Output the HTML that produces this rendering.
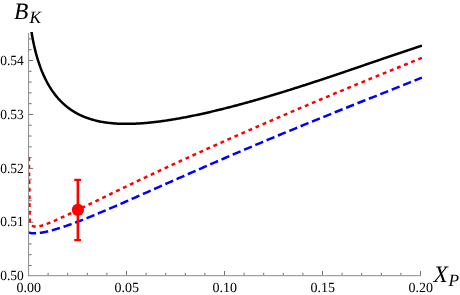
<!DOCTYPE html>
<html><head><meta charset="utf-8"><title>B_K vs X_P</title><style>
html,body{margin:0;padding:0;background:#fff;}
body{width:460px;height:295px;position:relative;overflow:hidden;font-family:"Liberation Serif",serif;color:#000;}
svg{position:absolute;left:0;top:0;will-change:transform;}
</style></head><body>
<svg width="460" height="295" viewBox="0 0 460 295">
<defs><clipPath id="cp"><rect x="28.5" y="31.9" width="394" height="245"/></clipPath></defs>
<g stroke="#707070" stroke-width="1" fill="none">
<path d="M28.90 265.50 h2.70"/>
<path d="M28.90 254.71 h2.70"/>
<path d="M28.90 243.92 h2.70"/>
<path d="M28.90 233.13 h2.70"/>
<path d="M28.90 222.34 h4.30"/>
<path d="M28.90 211.55 h2.70"/>
<path d="M28.90 200.76 h2.70"/>
<path d="M28.90 189.97 h2.70"/>
<path d="M28.90 179.19 h2.70"/>
<path d="M28.90 168.40 h4.30"/>
<path d="M28.90 157.61 h2.70"/>
<path d="M28.90 146.82 h2.70"/>
<path d="M28.90 136.03 h2.70"/>
<path d="M28.90 125.24 h2.70"/>
<path d="M28.90 114.45 h4.30"/>
<path d="M28.90 103.66 h2.70"/>
<path d="M28.90 92.87 h2.70"/>
<path d="M28.90 82.08 h2.70"/>
<path d="M28.90 71.29 h2.70"/>
<path d="M28.90 60.50 h4.30"/>
<path d="M28.90 49.71 h2.70"/>
<path d="M28.90 38.92 h2.70"/>
<path d="M48.10 275.20 v-2.40"/>
<path d="M67.70 275.20 v-2.40"/>
<path d="M87.30 275.20 v-2.40"/>
<path d="M106.90 275.20 v-2.40"/>
<path d="M126.50 275.20 v-4.20"/>
<path d="M146.10 275.20 v-2.40"/>
<path d="M165.70 275.20 v-2.40"/>
<path d="M185.30 275.20 v-2.40"/>
<path d="M204.90 275.20 v-2.40"/>
<path d="M224.50 275.20 v-4.20"/>
<path d="M244.10 275.20 v-2.40"/>
<path d="M263.70 275.20 v-2.40"/>
<path d="M283.30 275.20 v-2.40"/>
<path d="M302.90 275.20 v-2.40"/>
<path d="M322.50 275.20 v-4.20"/>
<path d="M342.10 275.20 v-2.40"/>
<path d="M361.70 275.20 v-2.40"/>
<path d="M381.30 275.20 v-2.40"/>
<path d="M400.90 275.20 v-2.40"/>
<path d="M420.50 275.20 v-4.20"/>
</g>
<g clip-path="url(#cp)" fill="none" stroke-width="2.5" stroke-linejoin="round">
<path d="M28.89 6.93 L29.09 10.09 L29.28 12.76 L29.48 15.12 L29.67 17.25 L29.87 19.21 L30.06 21.04 L30.26 22.75 L30.46 24.37 L30.65 25.90 L30.85 27.37 L31.04 28.77 L31.24 30.11 L31.43 31.40 L31.63 32.65 L31.82 33.86 L32.02 35.02 L32.21 36.15 L32.41 37.25 L32.61 38.32 L32.80 39.36 L33.00 40.37 L33.19 41.36 L33.39 42.32 L33.58 43.26 L33.78 44.18 L33.97 45.08 L34.17 45.96 L34.36 46.82 L34.56 47.67 L34.76 48.49 L34.95 49.30 L35.15 50.10 L35.34 50.88 L35.54 51.65 L35.73 52.40 L35.93 53.14 L36.12 53.87 L36.32 54.59 L36.51 55.29 L36.71 55.98 L36.91 56.67 L37.10 57.34 L37.30 58.00 L37.49 58.65 L37.69 59.29 L37.88 59.92 L38.08 60.55 L38.27 61.16 L38.47 61.76 L38.66 62.36 L38.86 62.95 L39.06 63.53 L39.25 64.10 L39.45 64.67 L39.64 65.23 L39.84 65.78 L40.03 66.32 L40.23 66.86 L40.42 67.39 L40.62 67.91 L40.81 68.43 L41.01 68.94 L41.21 69.44 L41.40 69.94 L41.60 70.43 L41.79 70.92 L41.99 71.40 L42.18 71.88 L42.38 72.35 L42.57 72.81 L42.77 73.27 L42.96 73.72 L43.16 74.17 L43.36 74.62 L43.55 75.06 L43.75 75.49 L43.94 75.92 L44.14 76.35 L44.33 76.77 L44.53 77.19 L44.72 77.60 L44.92 78.01 L45.11 78.41 L45.31 78.81 L45.50 79.21 L45.70 79.60 L45.90 79.99 L46.09 80.37 L46.29 80.75 L46.48 81.13 L46.68 81.50 L46.87 81.87 L47.07 82.23 L47.26 82.60 L47.46 82.95 L47.65 83.31 L47.85 83.66 L48.05 84.01 L48.24 84.35 L48.44 84.70 L48.63 85.03 L48.83 85.37 L49.02 85.70 L49.22 86.03 L49.41 86.36 L49.61 86.68 L49.80 87.00 L50.00 87.32 L50.20 87.63 L50.39 87.94 L50.59 88.25 L50.78 88.56 L50.98 88.86 L51.17 89.16 L51.37 89.46 L51.56 89.76 L51.76 90.05 L51.95 90.34 L52.15 90.63 L52.35 90.91 L52.54 91.19 L52.74 91.47 L52.93 91.75 L53.13 92.03 L53.32 92.30 L53.52 92.57 L53.71 92.84 L53.91 93.11 L54.10 93.37 L54.30 93.63 L54.50 93.89 L54.69 94.15 L54.89 94.40 L55.08 94.66 L55.28 94.91 L55.47 95.16 L55.67 95.40 L55.86 95.65 L56.06 95.89 L56.25 96.13 L56.45 96.37 L56.65 96.61 L56.84 96.84 L57.04 97.08 L57.23 97.31 L57.43 97.54 L57.62 97.77 L57.82 97.99 L58.01 98.22 L58.21 98.44 L58.40 98.66 L58.60 98.88 L58.80 99.09 L58.99 99.31 L59.19 99.52 L59.38 99.73 L59.58 99.94 L59.77 100.15 L59.97 100.36 L60.16 100.56 L60.36 100.77 L60.55 100.97 L60.75 101.17 L60.95 101.37 L61.14 101.56 L61.34 101.76 L61.53 101.95 L61.73 102.15 L61.92 102.34 L62.12 102.53 L62.31 102.72 L62.51 102.90 L62.70 103.09 L62.90 103.27 L63.09 103.45 L63.29 103.64 L63.49 103.82 L63.68 103.99 L63.88 104.17 L64.07 104.35 L64.27 104.52 L64.46 104.69 L64.66 104.86 L64.85 105.03 L65.05 105.20 L65.24 105.37 L65.44 105.54 L65.64 105.70 L65.83 105.87 L66.03 106.03 L66.22 106.19 L66.42 106.35 L66.61 106.51 L66.81 106.67 L67.00 106.82 L67.20 106.98 L67.39 107.13 L67.59 107.29 L67.79 107.44 L67.98 107.59 L68.18 107.74 L68.37 107.89 L68.57 108.03 L68.76 108.18 L68.96 108.33 L69.15 108.47 L69.35 108.61 L69.54 108.75 L69.74 108.90 L69.94 109.04 L70.13 109.17 L70.33 109.31 L70.52 109.45 L70.72 109.58 L70.91 109.72 L71.11 109.85 L71.30 109.98 L71.50 110.12 L71.69 110.25 L71.89 110.38 L72.09 110.50 L72.28 110.63 L72.48 110.76 L72.67 110.88 L72.87 111.01 L73.06 111.13 L73.26 111.26 L73.45 111.38 L73.65 111.50 L73.84 111.62 L74.04 111.74 L74.24 111.86 L74.43 111.97 L74.63 112.09 L74.82 112.21 L75.02 112.32 L75.21 112.44 L75.41 112.55 L75.60 112.66 L75.80 112.77 L75.99 112.88 L76.19 112.99 L76.39 113.10 L76.58 113.21 L76.78 113.32 L76.97 113.42 L77.17 113.53 L77.36 113.63 L77.56 113.74 L77.75 113.84 L77.95 113.94 L78.14 114.05 L78.34 114.15 L78.54 114.25 L78.73 114.35 L78.93 114.44 L79.12 114.54 L79.32 114.64 L79.51 114.74 L79.71 114.83 L79.90 114.93 L80.10 115.02 L80.29 115.11 L80.49 115.21 L80.68 115.30 L80.88 115.39 L81.08 115.48 L81.27 115.57 L81.47 115.66 L81.66 115.75 L81.86 115.84 L82.05 115.92 L82.25 116.01 L82.44 116.10 L82.64 116.18 L82.83 116.27 L83.03 116.35 L83.23 116.43 L83.42 116.51 L83.62 116.60 L83.81 116.68 L84.01 116.76 L84.20 116.84 L84.40 116.92 L84.59 117.00 L84.79 117.07 L84.98 117.15 L85.18 117.23 L85.38 117.30 L85.57 117.38 L85.77 117.46 L85.96 117.53 L86.16 117.60 L86.35 117.68 L86.55 117.75 L86.74 117.82 L86.94 117.89 L87.13 117.96 L87.33 118.03 L88.45 118.42 L89.57 118.80 L90.69 119.15 L91.81 119.49 L92.92 119.81 L94.04 120.12 L95.16 120.41 L96.28 120.69 L97.40 120.95 L98.52 121.20 L99.64 121.43 L100.76 121.65 L101.88 121.86 L103.00 122.06 L104.11 122.24 L105.23 122.41 L106.35 122.58 L107.47 122.73 L108.59 122.87 L109.71 122.99 L110.83 123.11 L111.95 123.22 L113.07 123.32 L114.19 123.41 L115.30 123.49 L116.42 123.57 L117.54 123.63 L118.66 123.69 L119.78 123.74 L120.90 123.78 L122.02 123.81 L123.14 123.83 L124.26 123.85 L125.37 123.86 L126.49 123.86 L127.61 123.86 L128.73 123.85 L129.85 123.83 L130.97 123.81 L132.09 123.78 L133.21 123.74 L134.33 123.70 L135.45 123.66 L136.56 123.60 L137.68 123.55 L138.80 123.48 L139.92 123.41 L141.04 123.34 L142.16 123.26 L143.28 123.18 L144.40 123.09 L145.52 123.00 L146.64 122.90 L147.75 122.80 L148.87 122.69 L149.99 122.58 L151.11 122.46 L152.23 122.35 L153.35 122.22 L154.47 122.09 L155.59 121.96 L156.71 121.83 L157.82 121.69 L158.94 121.55 L160.06 121.40 L161.18 121.25 L162.30 121.10 L163.42 120.94 L164.54 120.78 L165.66 120.62 L166.78 120.45 L167.90 120.28 L169.01 120.11 L170.13 119.93 L171.25 119.75 L172.37 119.57 L173.49 119.39 L174.61 119.20 L175.73 119.01 L176.85 118.82 L177.97 118.62 L179.08 118.42 L180.20 118.22 L181.32 118.02 L182.44 117.81 L183.56 117.60 L184.68 117.39 L185.80 117.18 L186.92 116.96 L188.04 116.74 L189.16 116.52 L190.27 116.30 L191.39 116.07 L192.51 115.84 L193.63 115.61 L194.75 115.38 L195.87 115.15 L196.99 114.91 L198.11 114.67 L199.23 114.43 L200.35 114.19 L201.46 113.94 L202.58 113.70 L203.70 113.45 L204.82 113.20 L205.94 112.94 L207.06 112.69 L208.18 112.43 L209.30 112.18 L210.42 111.92 L211.53 111.65 L212.65 111.39 L213.77 111.13 L214.89 110.86 L216.01 110.59 L217.13 110.32 L218.25 110.05 L219.37 109.77 L220.49 109.50 L221.61 109.22 L222.72 108.94 L223.84 108.66 L224.96 108.38 L226.08 108.10 L227.20 107.81 L228.32 107.53 L229.44 107.24 L230.56 106.95 L231.68 106.66 L232.80 106.37 L233.91 106.07 L235.03 105.78 L236.15 105.48 L237.27 105.18 L238.39 104.88 L239.51 104.58 L240.63 104.28 L241.75 103.98 L242.87 103.67 L243.98 103.37 L245.10 103.06 L246.22 102.75 L247.34 102.44 L248.46 102.13 L249.58 101.82 L250.70 101.50 L251.82 101.19 L252.94 100.87 L254.06 100.56 L255.17 100.24 L256.29 99.92 L257.41 99.60 L258.53 99.28 L259.65 98.95 L260.77 98.63 L261.89 98.30 L263.01 97.98 L264.13 97.65 L265.25 97.32 L266.36 96.99 L267.48 96.66 L268.60 96.33 L269.72 95.99 L270.84 95.66 L271.96 95.32 L273.08 94.99 L274.20 94.65 L275.32 94.31 L276.43 93.97 L277.55 93.63 L278.67 93.29 L279.79 92.95 L280.91 92.61 L282.03 92.26 L283.15 91.92 L284.27 91.57 L285.39 91.23 L286.51 90.88 L287.62 90.53 L288.74 90.18 L289.86 89.83 L290.98 89.48 L292.10 89.13 L293.22 88.77 L294.34 88.42 L295.46 88.06 L296.58 87.71 L297.70 87.35 L298.81 87.00 L299.93 86.64 L301.05 86.28 L302.17 85.92 L303.29 85.56 L304.41 85.20 L305.53 84.84 L306.65 84.48 L307.77 84.11 L308.88 83.75 L310.00 83.39 L311.12 83.02 L312.24 82.66 L313.36 82.29 L314.48 81.92 L315.60 81.56 L316.72 81.19 L317.84 80.82 L318.96 80.45 L320.07 80.08 L321.19 79.71 L322.31 79.34 L323.43 78.97 L324.55 78.59 L325.67 78.22 L326.79 77.85 L327.91 77.47 L329.03 77.10 L330.15 76.73 L331.26 76.35 L332.38 75.97 L333.50 75.60 L334.62 75.22 L335.74 74.85 L336.86 74.47 L337.98 74.09 L339.10 73.71 L340.22 73.33 L341.33 72.95 L342.45 72.58 L343.57 72.20 L344.69 71.82 L345.81 71.44 L346.93 71.06 L348.05 70.67 L349.17 70.29 L350.29 69.91 L351.41 69.53 L352.52 69.15 L353.64 68.77 L354.76 68.38 L355.88 68.00 L357.00 67.62 L358.12 67.24 L359.24 66.85 L360.36 66.47 L361.48 66.09 L362.59 65.70 L363.71 65.32 L364.83 64.94 L365.95 64.55 L367.07 64.17 L368.19 63.79 L369.31 63.40 L370.43 63.02 L371.55 62.64 L372.67 62.25 L373.78 61.87 L374.90 61.48 L376.02 61.10 L377.14 60.72 L378.26 60.33 L379.38 59.95 L380.50 59.57 L381.62 59.19 L382.74 58.80 L383.86 58.42 L384.97 58.04 L386.09 57.66 L387.21 57.27 L388.33 56.89 L389.45 56.51 L390.57 56.13 L391.69 55.75 L392.81 55.37 L393.93 54.99 L395.04 54.61 L396.16 54.23 L397.28 53.85 L398.40 53.47 L399.52 53.09 L400.64 52.71 L401.76 52.33 L402.88 51.96 L404.00 51.58 L405.12 51.20 L406.23 50.83 L407.35 50.45 L408.47 50.08 L409.59 49.71 L410.71 49.33 L411.83 48.96 L412.95 48.59 L414.07 48.22 L415.19 47.84 L416.31 47.47 L417.42 47.10 L418.54 46.74 L419.66 46.37 L420.78 46.00 L421.90 45.63" stroke="#000"/>
<path d="M28.90 157.30 L29.72 221.39 L29.76 221.55 L29.80 221.71 L29.85 221.87 L29.90 222.03 L29.95 222.18 L30.00 222.34 L30.06 222.49 L30.11 222.64 L30.17 222.79 L30.23 222.94 L30.29 223.08 L30.35 223.23 L30.42 223.37 L30.49 223.51 L30.56 223.65 L30.64 223.78 L30.71 223.92 L30.79 224.05 L30.87 224.18 L30.96 224.31 L31.05 224.43 L31.14 224.56 L31.23 224.68 L31.33 224.79 L31.43 224.91 L31.54 225.02 L31.64 225.13 L31.76 225.24 L31.87 225.34 L32.00 225.44 L32.12 225.54 L32.25 225.63 L32.38 225.72 L32.52 225.81 L32.67 225.89 L32.82 225.97 L32.97 226.05 L33.13 226.12 L33.30 226.19 L33.47 226.25 L33.65 226.31 L33.83 226.36 L34.02 226.41 L34.22 226.45 L34.43 226.49 L34.64 226.53 L34.86 226.56 L35.09 226.58 L35.32 226.60 L35.57 226.61 L35.82 226.62 L36.08 226.62 L36.35 226.61 L36.63 226.60 L36.93 226.58 L37.23 226.55 L37.54 226.52 L37.86 226.48 L38.20 226.43 L38.55 226.37 L38.91 226.31 L39.28 226.23 L39.67 226.15 L40.07 226.06 L40.48 225.96 L40.91 225.85 L41.35 225.73 L41.81 225.60 L42.29 225.46 L42.79 225.31 L43.30 225.15 L43.83 224.98 L44.38 224.80 L44.95 224.60 L45.53 224.39 L46.14 224.17 L46.78 223.94 L47.43 223.69 L48.11 223.43 L49.36 222.93 L50.61 222.43 L51.86 221.91 L53.11 221.38 L54.36 220.84 L55.61 220.29 L56.86 219.73 L58.11 219.17 L59.36 218.61 L60.61 218.04 L61.86 217.46 L63.11 216.88 L64.36 216.30 L65.61 215.71 L66.86 215.12 L68.11 214.53 L69.36 213.94 L70.61 213.35 L71.86 212.75 L73.11 212.15 L74.36 211.55 L75.61 210.95 L76.86 210.35 L78.11 209.75 L79.36 209.14 L80.61 208.54 L81.86 207.94 L83.11 207.33 L84.36 206.72 L85.61 206.12 L86.86 205.51 L88.11 204.91 L89.36 204.30 L90.61 203.69 L91.86 203.09 L93.11 202.48 L94.36 201.87 L95.62 201.27 L96.87 200.66 L98.12 200.05 L99.37 199.45 L100.62 198.84 L101.87 198.23 L103.12 197.63 L104.37 197.02 L105.62 196.42 L106.87 195.81 L108.12 195.21 L109.37 194.60 L110.62 194.00 L111.87 193.40 L113.12 192.79 L114.37 192.19 L115.62 191.59 L116.87 190.99 L118.12 190.39 L119.37 189.79 L120.62 189.18 L121.87 188.58 L123.12 187.99 L124.37 187.39 L125.62 186.79 L126.87 186.19 L128.12 185.59 L129.37 184.99 L130.62 184.40 L131.87 183.80 L133.12 183.21 L134.37 182.61 L135.62 182.02 L136.87 181.42 L138.12 180.83 L139.37 180.24 L140.62 179.64 L141.87 179.05 L143.12 178.46 L144.37 177.87 L145.62 177.28 L146.87 176.69 L148.12 176.10 L149.37 175.51 L150.62 174.92 L151.87 174.34 L153.12 173.75 L154.37 173.16 L155.62 172.58 L156.87 171.99 L158.12 171.41 L159.37 170.82 L160.62 170.24 L161.87 169.65 L163.12 169.07 L164.37 168.49 L165.62 167.91 L166.87 167.33 L168.12 166.75 L169.37 166.17 L170.62 165.59 L171.87 165.01 L173.12 164.43 L174.37 163.85 L175.62 163.27 L176.87 162.70 L178.12 162.12 L179.37 161.54 L180.62 160.97 L181.87 160.39 L183.12 159.82 L184.37 159.25 L185.62 158.67 L186.87 158.10 L188.12 157.53 L189.38 156.96 L190.63 156.38 L191.88 155.81 L193.13 155.24 L194.38 154.67 L195.63 154.10 L196.88 153.54 L198.13 152.97 L199.38 152.40 L200.63 151.83 L201.88 151.27 L203.13 150.70 L204.38 150.13 L205.63 149.57 L206.88 149.00 L208.13 148.44 L209.38 147.88 L210.63 147.31 L211.88 146.75 L213.13 146.19 L214.38 145.63 L215.63 145.07 L216.88 144.50 L218.13 143.94 L219.38 143.38 L220.63 142.83 L221.88 142.27 L223.13 141.71 L224.38 141.15 L225.63 140.59 L226.88 140.04 L228.13 139.48 L229.38 138.92 L230.63 138.37 L231.88 137.81 L233.13 137.26 L234.38 136.70 L235.63 136.15 L236.88 135.60 L238.13 135.04 L239.38 134.49 L240.63 133.94 L241.88 133.39 L243.13 132.84 L244.38 132.29 L245.63 131.74 L246.88 131.19 L248.13 130.64 L249.38 130.09 L250.63 129.54 L251.88 128.99 L253.13 128.44 L254.38 127.90 L255.63 127.35 L256.88 126.80 L258.13 126.26 L259.38 125.71 L260.63 125.17 L261.88 124.62 L263.13 124.08 L264.38 123.53 L265.63 122.99 L266.88 122.45 L268.13 121.91 L269.38 121.36 L270.63 120.82 L271.88 120.28 L273.13 119.74 L274.38 119.20 L275.63 118.66 L276.88 118.12 L278.13 117.58 L279.38 117.04 L280.63 116.50 L281.89 115.97 L283.14 115.43 L284.39 114.89 L285.64 114.35 L286.89 113.82 L288.14 113.28 L289.39 112.75 L290.64 112.21 L291.89 111.68 L293.14 111.14 L294.39 110.61 L295.64 110.07 L296.89 109.54 L298.14 109.01 L299.39 108.47 L300.64 107.94 L301.89 107.41 L303.14 106.88 L304.39 106.35 L305.64 105.82 L306.89 105.29 L308.14 104.76 L309.39 104.23 L310.64 103.70 L311.89 103.17 L313.14 102.64 L314.39 102.11 L315.64 101.59 L316.89 101.06 L318.14 100.53 L319.39 100.00 L320.64 99.48 L321.89 98.95 L323.14 98.43 L324.39 97.90 L325.64 97.38 L326.89 96.85 L328.14 96.33 L329.39 95.80 L330.64 95.28 L331.89 94.76 L333.14 94.23 L334.39 93.71 L335.64 93.19 L336.89 92.67 L338.14 92.15 L339.39 91.63 L340.64 91.11 L341.89 90.59 L343.14 90.07 L344.39 89.55 L345.64 89.03 L346.89 88.51 L348.14 87.99 L349.39 87.47 L350.64 86.95 L351.89 86.43 L353.14 85.92 L354.39 85.40 L355.64 84.88 L356.89 84.37 L358.14 83.85 L359.39 83.34 L360.64 82.82 L361.89 82.31 L363.14 81.79 L364.39 81.28 L365.64 80.76 L366.89 80.25 L368.14 79.74 L369.39 79.22 L370.64 78.71 L371.89 78.20 L373.14 77.69 L374.39 77.17 L375.65 76.66 L376.90 76.15 L378.15 75.64 L379.40 75.13 L380.65 74.62 L381.90 74.11 L383.15 73.60 L384.40 73.09 L385.65 72.58 L386.90 72.07 L388.15 71.56 L389.40 71.06 L390.65 70.55 L391.90 70.04 L393.15 69.53 L394.40 69.03 L395.65 68.52 L396.90 68.01 L398.15 67.51 L399.40 67.00 L400.65 66.50 L401.90 65.99 L403.15 65.49 L404.40 64.98 L405.65 64.48 L406.90 63.97 L408.15 63.47 L409.40 62.97 L410.65 62.46 L411.90 61.96 L413.15 61.46 L414.40 60.96 L415.65 60.45 L416.90 59.95 L418.15 59.45 L419.40 58.95 L420.65 58.45 L421.90 57.95" stroke="#f00" stroke-dasharray="3.9 3.77" stroke-dashoffset="0.19"/>
<path d="M27.90 232.73 L29.68 232.73 L30.15 232.87 L30.62 232.99 L31.09 233.08 L31.57 233.16 L32.04 233.22 L32.51 233.26 L32.99 233.29 L33.46 233.31 L33.93 233.33 L34.40 233.33 L34.88 233.33 L35.35 233.31 L35.82 233.29 L36.29 233.27 L36.77 233.24 L37.24 233.20 L37.71 233.16 L38.18 233.11 L38.66 233.06 L39.13 233.01 L39.60 232.95 L40.07 232.88 L40.55 232.81 L41.02 232.74 L41.49 232.67 L41.97 232.59 L42.44 232.51 L42.91 232.42 L43.38 232.34 L43.86 232.25 L44.33 232.15 L44.80 232.06 L45.27 231.96 L45.75 231.86 L46.22 231.75 L46.69 231.65 L47.16 231.54 L47.64 231.43 L48.11 231.32 L49.36 231.01 L50.61 230.69 L51.86 230.36 L53.11 230.02 L54.36 229.66 L55.61 229.30 L56.86 228.92 L58.11 228.54 L59.36 228.15 L60.61 227.75 L61.86 227.34 L63.11 226.93 L64.36 226.51 L65.61 226.08 L66.86 225.65 L68.11 225.21 L69.36 224.76 L70.61 224.32 L71.86 223.86 L73.11 223.40 L74.36 222.94 L75.61 222.47 L76.86 222.00 L78.11 221.52 L79.36 221.04 L80.61 220.56 L81.86 220.07 L83.11 219.58 L84.36 219.09 L85.61 218.59 L86.86 218.09 L88.11 217.59 L89.36 217.09 L90.61 216.58 L91.86 216.07 L93.11 215.56 L94.36 215.04 L95.62 214.53 L96.87 214.01 L98.12 213.49 L99.37 212.97 L100.62 212.44 L101.87 211.92 L103.12 211.39 L104.37 210.86 L105.62 210.33 L106.87 209.80 L108.12 209.27 L109.37 208.73 L110.62 208.20 L111.87 207.66 L113.12 207.12 L114.37 206.58 L115.62 206.04 L116.87 205.50 L118.12 204.96 L119.37 204.42 L120.62 203.87 L121.87 203.33 L123.12 202.78 L124.37 202.24 L125.62 201.69 L126.87 201.14 L128.12 200.59 L129.37 200.05 L130.62 199.50 L131.87 198.95 L133.12 198.40 L134.37 197.85 L135.62 197.29 L136.87 196.74 L138.12 196.19 L139.37 195.64 L140.62 195.09 L141.87 194.53 L143.12 193.98 L144.37 193.43 L145.62 192.87 L146.87 192.32 L148.12 191.77 L149.37 191.21 L150.62 190.66 L151.87 190.10 L153.12 189.55 L154.37 189.00 L155.62 188.44 L156.87 187.89 L158.12 187.33 L159.37 186.78 L160.62 186.23 L161.87 185.67 L163.12 185.12 L164.37 184.56 L165.62 184.01 L166.87 183.45 L168.12 182.90 L169.37 182.35 L170.62 181.79 L171.87 181.24 L173.12 180.69 L174.37 180.13 L175.62 179.58 L176.87 179.03 L178.12 178.48 L179.37 177.92 L180.62 177.37 L181.87 176.82 L183.12 176.27 L184.37 175.72 L185.62 175.17 L186.87 174.62 L188.12 174.07 L189.38 173.52 L190.63 172.97 L191.88 172.42 L193.13 171.87 L194.38 171.32 L195.63 170.77 L196.88 170.22 L198.13 169.68 L199.38 169.13 L200.63 168.58 L201.88 168.04 L203.13 167.49 L204.38 166.94 L205.63 166.40 L206.88 165.85 L208.13 165.31 L209.38 164.77 L210.63 164.22 L211.88 163.68 L213.13 163.14 L214.38 162.59 L215.63 162.05 L216.88 161.51 L218.13 160.97 L219.38 160.43 L220.63 159.89 L221.88 159.35 L223.13 158.81 L224.38 158.27 L225.63 157.73 L226.88 157.19 L228.13 156.65 L229.38 156.12 L230.63 155.58 L231.88 155.04 L233.13 154.51 L234.38 153.97 L235.63 153.44 L236.88 152.90 L238.13 152.37 L239.38 151.83 L240.63 151.30 L241.88 150.77 L243.13 150.24 L244.38 149.70 L245.63 149.17 L246.88 148.64 L248.13 148.11 L249.38 147.58 L250.63 147.05 L251.88 146.52 L253.13 145.99 L254.38 145.47 L255.63 144.94 L256.88 144.41 L258.13 143.88 L259.38 143.36 L260.63 142.83 L261.88 142.31 L263.13 141.78 L264.38 141.26 L265.63 140.73 L266.88 140.21 L268.13 139.69 L269.38 139.16 L270.63 138.64 L271.88 138.12 L273.13 137.60 L274.38 137.08 L275.63 136.56 L276.88 136.04 L278.13 135.52 L279.38 135.00 L280.63 134.48 L281.89 133.96 L283.14 133.44 L284.39 132.92 L285.64 132.41 L286.89 131.89 L288.14 131.37 L289.39 130.86 L290.64 130.34 L291.89 129.83 L293.14 129.31 L294.39 128.80 L295.64 128.28 L296.89 127.77 L298.14 127.26 L299.39 126.75 L300.64 126.23 L301.89 125.72 L303.14 125.21 L304.39 124.70 L305.64 124.19 L306.89 123.68 L308.14 123.17 L309.39 122.66 L310.64 122.15 L311.89 121.64 L313.14 121.13 L314.39 120.62 L315.64 120.11 L316.89 119.61 L318.14 119.10 L319.39 118.59 L320.64 118.09 L321.89 117.58 L323.14 117.07 L324.39 116.57 L325.64 116.06 L326.89 115.56 L328.14 115.05 L329.39 114.55 L330.64 114.04 L331.89 113.54 L333.14 113.04 L334.39 112.53 L335.64 112.03 L336.89 111.53 L338.14 111.02 L339.39 110.52 L340.64 110.02 L341.89 109.52 L343.14 109.02 L344.39 108.51 L345.64 108.01 L346.89 107.51 L348.14 107.01 L349.39 106.51 L350.64 106.01 L351.89 105.51 L353.14 105.01 L354.39 104.51 L355.64 104.01 L356.89 103.51 L358.14 103.01 L359.39 102.52 L360.64 102.02 L361.89 101.52 L363.14 101.02 L364.39 100.52 L365.64 100.02 L366.89 99.53 L368.14 99.03 L369.39 98.53 L370.64 98.03 L371.89 97.54 L373.14 97.04 L374.39 96.54 L375.65 96.05 L376.90 95.55 L378.15 95.05 L379.40 94.56 L380.65 94.06 L381.90 93.56 L383.15 93.07 L384.40 92.57 L385.65 92.07 L386.90 91.58 L388.15 91.08 L389.40 90.58 L390.65 90.09 L391.90 89.59 L393.15 89.10 L394.40 88.60 L395.65 88.10 L396.90 87.61 L398.15 87.11 L399.40 86.62 L400.65 86.12 L401.90 85.62 L403.15 85.13 L404.40 84.63 L405.65 84.14 L406.90 83.64 L408.15 83.14 L409.40 82.65 L410.65 82.15 L411.90 81.66 L413.15 81.16 L414.40 80.66 L415.65 80.17 L416.90 79.67 L418.15 79.17 L419.40 78.68 L420.65 78.18 L421.90 77.68" stroke="#00f" stroke-dasharray="8.5 3.765" stroke-dashoffset="0.25"/>
<path stroke="#f00" stroke-width="2.6" d="M77.9 179.85 V240.2"/><path stroke="#f00" stroke-width="2.3" d="M74.25 179.85 h6.8 M74.25 240.2 h6.8"/>
<circle cx="77.9" cy="209.9" r="6.1" fill="#f00" stroke="none"/>
</g>
<g stroke="#8a8a8a" stroke-width="1" fill="none">
<path d="M28.60 33.0 V276.20 M28.10 275.70 H421.0"/>
</g>
<g font-family="Liberation Serif, serif" fill="#000" style="text-rendering:geometricPrecision"><text transform="matrix(0.96 0.0001 0 1 23.700 280.438)" font-size="14" text-anchor="end">0.50</text>
<text transform="matrix(0.96 0.0001 0 1 23.700 226.491)" font-size="14" text-anchor="end">0.51</text>
<text transform="matrix(0.96 0.0001 0 1 23.700 172.544)" font-size="14" text-anchor="end">0.52</text>
<text transform="matrix(0.96 0.0001 0 1 23.700 118.597)" font-size="14" text-anchor="end">0.53</text>
<text transform="matrix(0.96 0.0001 0 1 23.700 64.650)" font-size="14" text-anchor="end">0.54</text>
<text transform="matrix(1 0.0001 0 1 28.700 292.297)" font-size="14" text-anchor="middle">0.00</text>
<text transform="matrix(1 0.0001 0 1 126.700 292.287)" font-size="14" text-anchor="middle">0.05</text>
<text transform="matrix(1 0.0001 0 1 224.700 292.278)" font-size="14" text-anchor="middle">0.10</text>
<text transform="matrix(1 0.0001 0 1 322.700 292.268)" font-size="14" text-anchor="middle">0.15</text>
<text transform="matrix(1 0.0001 0 1 420.700 292.258)" font-size="14" text-anchor="middle">0.20</text>
<text transform="matrix(1 0.0001 0 1 13.900 18.699)" font-size="23.5" text-anchor="start" font-style="italic">B</text>
<text transform="matrix(1 0.0001 0 1 29.600 22.697)" font-size="17.3" text-anchor="start" font-style="italic">K</text>
<text transform="matrix(1 0.0001 0 1 433.600 282.157)" font-size="23.5" text-anchor="start" font-style="italic">X</text>
<text transform="matrix(1 0.0001 0 1 448.500 286.255)" font-size="17.3" text-anchor="start" font-style="italic">P</text></g>
</svg>
</body></html>
